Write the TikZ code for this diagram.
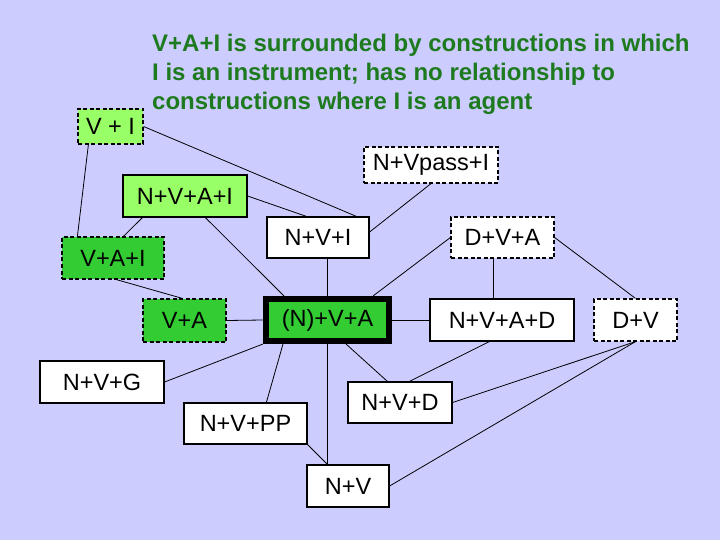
\documentclass[tikz,border=0pt]{standalone}
\usepackage{fontspec}
\setmainfont{Liberation Sans}
\definecolor{bg}{RGB}{204,204,255}
\definecolor{lgreen}{RGB}{153,255,102}
\definecolor{dgreen}{RGB}{51,204,51}
\definecolor{ttl}{RGB}{30,122,30}
\tikzset{
  box/.style={draw=black, line width=1.2pt, inner sep=0pt, fill=white,
    font=\fontsize{23.5}{27}\selectfont},
  dsh/.style={dash pattern=on 4pt off 2.5pt},
  conn/.style={line width=0.8pt},
}
\begin{document}
\begin{tikzpicture}[x=1pt,y=-1pt]
\fill[bg] (0,0) rectangle (720,540);
\useasboundingbox (0,0) rectangle (720,540);

\node[anchor=north west, inner sep=0pt, align=left, text=ttl,
  font=\bfseries\fontsize{24}{29}\selectfont] (title) at (152,34)
  {V+A+I is surrounded by constructions in which\\
   I is an instrument; has no relationship to\\
   constructions where I is an agent};

\node[box, fill=lgreen, dsh, minimum width=65pt, minimum height=35pt] (VI) at (110.5,126.5) {V + I};
\node[box, fill=lgreen, minimum width=124pt, minimum height=42pt] (NVAI) at (185,196) {N+V+A+I};
\node[box, fill=dgreen, dsh, minimum width=102pt, minimum height=42pt] (VAI) at (113,258) {V+A+I};
\node[box, minimum width=102pt, minimum height=41pt] (NVI) at (318,237.5) {N+V+I};
\node[box, dsh, minimum width=134pt, minimum height=36pt] (NVpassI) at (431,165) {N+Vpass+I};
\node[box, dsh, minimum width=103pt, minimum height=41pt] (DVA) at (502.5,237.5) {D+V+A};
\node[box, minimum width=144pt, minimum height=42pt] (NVAD) at (502,320) {N+V+A+D};
\node[box, dsh, minimum width=83pt, minimum height=42pt] (DV) at (635.5,320) {D+V};
\node[box, fill=dgreen, dsh, minimum width=83pt, minimum height=43pt] (VA) at (184.5,320.5) {V+A};
\node[box, fill=dgreen, line width=6pt, minimum width=123pt, minimum height=42pt] (NVA) at (327.5,320) {(N)+V+A};
\node[box, minimum width=124pt, minimum height=42pt] (NVG) at (102,382) {N+V+G};
\node[box, minimum width=123pt, minimum height=41pt] (NVPP) at (245.5,423.5) {N+V+PP};
\node[box, minimum width=104pt, minimum height=41pt] (NVD) at (400,402.5) {N+V+D};
\node[box, minimum width=82pt, minimum height=42pt] (NV) at (348,486) {N+V};

\draw[conn] (VI.east) -- ([xshift=90pt]NVI.north west);
\draw[conn] ([xshift=11pt]VI.south west) -- ([xshift=16pt]VAI.north west);
\draw[conn] ([xshift=20pt]NVAI.south west) -- ([xshift=62pt]VAI.north west);
\draw[conn] (NVAI.east) -- ([xshift=40pt]NVI.north west);
\draw[conn] ([xshift=83pt]NVAI.south west) -- ([xshift=21pt]NVA.north west);
\draw[conn] (NVA.north |- NVI.south) -- (NVA.north);
\draw[conn] (NVA.south) -- (NVA.south |- NV.north);
\draw[conn] (NVpassI.south) -- ([yshift=5.5pt]NVI.east);
\draw[conn] (DVA.west) -- ([xshift=-19pt]NVA.north east);
\draw[conn] ([xshift=-9.5pt]DVA.south) -- ([xshift=-9pt]NVAD.north);
\draw[conn] (DVA.east) -- (DV.north);
\draw[conn] (NVA.east) -- (NVAD.west);
\draw[conn] (VA.east) -- (NVA.west);
\draw[conn] ([xshift=55pt]VAI.south west) -- ([xshift=40pt]VA.north west);
\draw[conn] (NVA.south west) -- (NVG.east);
\draw[conn] ([xshift=20pt]NVA.south west) -- ([xshift=83pt]NVPP.north west);
\draw[conn] ([xshift=83pt]NVA.south west) -- ([xshift=40pt]NVD.north west);
\draw[conn] ([xshift=60pt]NVAD.south west) -- ([xshift=62pt]NVD.north west);
\draw[conn] (DV.south) -- (NVD.east);
\draw[conn] (DV.south) -- (NV.east);
\draw[conn] (NVPP.south east) -- ([xshift=21pt]NV.north west);
\end{tikzpicture}
\end{document}
